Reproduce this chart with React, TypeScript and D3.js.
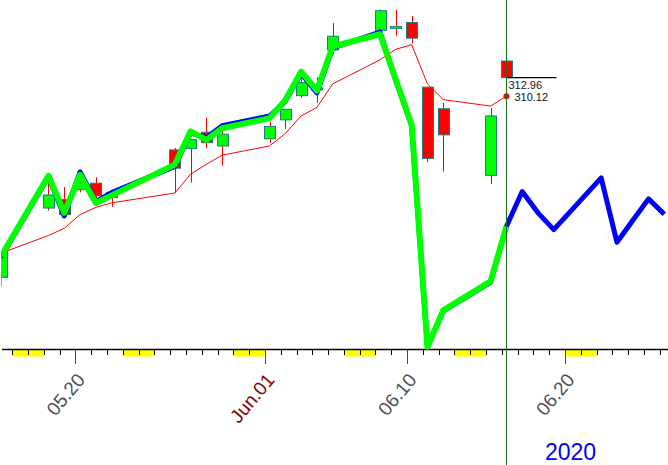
import React from 'react';
import * as d3 from 'd3';

// trading days with candles
const days = [
  "2020-05-15", "2020-05-18", "2020-05-19", "2020-05-20", "2020-05-21", "2020-05-22",
  "2020-05-26", "2020-05-27", "2020-05-28", "2020-05-29",
  "2020-06-01", "2020-06-02", "2020-06-03", "2020-06-04", "2020-06-05",
  "2020-06-08", "2020-06-09", "2020-06-10", "2020-06-11", "2020-06-12",
  "2020-06-15", "2020-06-16",
];
const opens = [282.4, 293.0, 294.3, 295.8, 296.8, 294.6, 301.9, 302.1, 304.6, 302.5, 303.6, 306.5, 310.2, 311.1, 317.2, 320.2, 320.5, 321.4, 311.5, 308.2, 298.0, 315.5];
const highs = [286.3, 296.8, 296.2, 297.9, 297.7, 295.6, 302.2, 303.6, 306.8, 305.0, 306.2, 308.1, 313.2, 313.0, 321.3, 323.4, 323.3, 322.4, 311.5, 309.1, 308.3, 315.6];
const lows = [281.0, 292.6, 291.9, 295.4, 293.7, 293.2, 295.3, 296.9, 302.2, 299.5, 303.0, 305.1, 309.9, 309.1, 316.5, 319.6, 319.4, 318.2, 300.0, 298.6, 296.7, 312.96];
const closes = [286.3, 295.0, 292.0, 296.9, 294.9, 295.4, 299.1, 303.5, 303.0, 304.3, 305.5, 308.1, 312.2, 311.4, 319.3, 323.2, 320.8, 319.0, 300.6, 304.2, 307.1, 312.96];

// thin red average
const maValues = [286.1, 288.8, 289.9, 292.0, 293.1, 293.8, 295.3, 298.2, 299.7, 301.1, 302.5, 304.4, 307.1, 308.4, 312.0, 315.7, 317.3, 318.0, 312.0, 309.6, 308.6, 310.12];

// oscillator lines (0..100)
const greenValues = [26.7, 49.7, 39.1, 50.0, 41.9, 44.1, 52.9, 62.4, 60.0, 63.3, 66.2, 71.4, 79.5, 74.1, 86.7, 90.2, 77.1, 64.3, 0.8, 11.2, 19.5, 35.2];
const futureDays = ["2020-06-17", "2020-06-18", "2020-06-19", "2020-06-22", "2020-06-23", "2020-06-24", "2020-06-25", "2020-06-26"];
const blueValues = [26.4, 49.4, 38.2, 50.8, 42.3, 44.9, 52.4, 62.0, 60.6, 64.0, 66.8, 71.0, 79.0, 73.4, 86.3, 90.8, 77.0, 64.0, 0.8, 11.0, 19.2, 35.2,
  45.2, 39.1, 34.3, 49.1, 30.7, 36.9, 43.1, 38.7];

const majorTicks = [
  { date: "2020-05-20", label: "05.20", color: "#4b4f58" },
  { date: "2020-06-01", label: "Jun.01", color: "#8b0000" },
  { date: "2020-06-10", label: "06.10", color: "#4b4f58" },
  { date: "2020-06-20", label: "06.20", color: "#4b4f58" },
];
const yearLabel = "2020";
const lastClose = 312.96;
const lastMa = 310.12;

const W = 668;
const H = 465;
const axisY = 349.5;
const font = '"Liberation Sans", Arial, sans-serif';

const parse = d3.timeParse("%Y-%m-%d");

const App: React.FC = () => {
  const x = d3.scaleTime()
    .domain([parse("2020-05-15")!, parse("2020-06-27")!])
    .range([-3.5, 675.5]);
  const y = d3.scaleLinear().domain([271.35, 324.84]).range([axisY, 0]);
  const yo = d3.scaleLinear().domain([0, 100]).range([axisY, 0]);

  // candles sit a little after the day tick
  const cx = (s: string) => x(d3.timeHour.offset(parse(s)!, 7));

  const candles = days.map((d, i) => ({
    x: cx(d), o: opens[i], h: highs[i], l: lows[i], c: closes[i],
  }));

  const maLine = d3.line<number>().x((_, i) => cx(days[i])).y(v => y(v));
  const allDays = days.concat(futureDays);
  const oscLine = d3.line<number>().x((_, i) => cx(allDays[i])).y(v => yo(v));

  const calDays = d3.timeDay.range(parse("2020-05-14")!, parse("2020-06-28")!);
  const weekends = calDays.filter(d => d.getDay() === 6);
  const majorSet = new Set(majorTicks.map(t => t.date));
  const fmt = d3.timeFormat("%Y-%m-%d");

  const lastX = cx(days[days.length - 1]);
  const bw = 11;

  return (
    <svg width={W} height={H} style={{ position: 'fixed', left: 0, top: 0, background: '#fff' }}>
      <defs>
        <clipPath id="plot">
          <rect x={1.5} y={0} width={W} height={axisY + 6} />
        </clipPath>
      </defs>

      {/* weekend bands */}
      {weekends.map((d, i) => (
        <rect key={i} x={x(d)} y={axisY} width={x(d3.timeDay.offset(d, 2)) - x(d)} height={7} fill="#ffff00" />
      ))}

      {/* day ticks */}
      {calDays.map((d, i) => {
        const major = majorSet.has(fmt(d));
        const tx = Math.round(x(d)) + 0.5;
        return (
          <line key={i} x1={tx} x2={tx} y1={axisY} y2={axisY + (major ? 14.5 : 5.5)}
            stroke={major ? "#ff0000" : "#000"} strokeWidth={1} />
        );
      })}
      <line x1={2} x2={W} y1={axisY} y2={axisY} stroke="#000" strokeWidth={1.5} />

      {majorTicks.map(t => {
        const tx = x(parse(t.date)!);
        return (
          <text key={t.date} transform={`translate(${tx + 10.5},${axisY + 31}) rotate(-50)`}
            textAnchor="end" fontFamily={font} fontSize={19} fill={t.color}>{t.label}</text>
        );
      })}

      <g clipPath="url(#plot)">
        <path d={maLine(maValues) ?? ''} fill="none" stroke="#ff0000" strokeWidth={1} />

        {candles.map((c, i) => {
          const up = c.c >= c.o;
          const top = y(Math.max(c.o, c.c));
          const bot = y(Math.min(c.o, c.c));
          const wx = Math.round(c.x) + 0.5;
          return (
            <g key={i}>
              <line x1={wx} x2={wx} y1={y(c.h)} y2={y(c.l)} stroke="#ff0000" strokeWidth={1} />
              <rect x={Math.round(c.x - bw / 2) + 0.5} y={top} width={bw} height={Math.max(bot - top, 2)}
                fill={up ? "#00ff00" : "#ff0000"} stroke="#1b8080" strokeWidth={1} />
            </g>
          );
        })}

        <path d={oscLine(blueValues) ?? ''} fill="none" stroke="#0000ff" strokeWidth={5} strokeLinejoin="round" />
        <path d={oscLine(greenValues) ?? ''} fill="none" stroke="#00ff00" strokeWidth={6} strokeLinejoin="round" />
      </g>

      {/* last price marks */}
      <line x1={lastX + 1} x2={lastX + 50} y1={y(lastClose)} y2={y(lastClose)} stroke="#000" strokeWidth={1.2} />
      <text x={lastX + 2} y={y(lastClose) + 11} fontFamily={font} fontSize={11} fill="#141428">{lastClose.toFixed(2)}</text>
      <circle cx={lastX} cy={y(lastMa)} r={3} fill="#ff0000" />
      <text x={lastX + 8} y={y(lastMa) + 4.5} fontFamily={font} fontSize={11} fill="#141428">{lastMa.toFixed(2)}</text>

      <line x1={Math.round(lastX) + 0.5} x2={Math.round(lastX) + 0.5} y1={0} y2={H} stroke="#1e6b1e" strokeWidth={1} />

      <text x={545} y={459.5} fontFamily={font} fontSize={23} fill="#0000ff">{yearLabel}</text>
    </svg>
  );
};

export default App;
